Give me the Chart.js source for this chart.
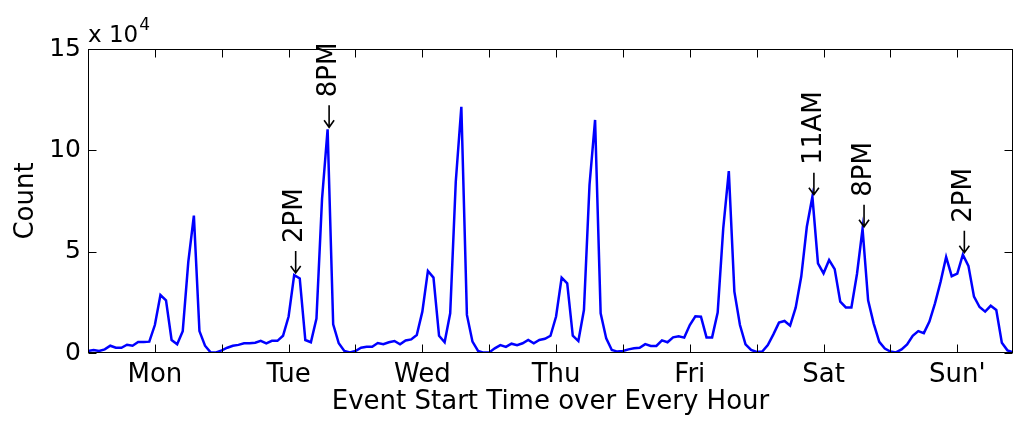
<!DOCTYPE html>
<html><head><meta charset="utf-8">
<script src="https://cdn.jsdelivr.net/npm/chart.js@4.4.0/dist/chart.umd.min.js"></script>
<style>html,body{margin:0;padding:0;background:#fff;}#wrap{width:1014px;height:422px;}</style>
</head><body><div id="wrap"><canvas id="c" width="1014" height="422"></canvas></div>
<script>
// Hourly event-start counts (units of 10^4), one array per day, hour 0..23
const mon = [0.10,0.10,0.15,0.10,0.18,0.36,0.26,0.26,0.41,0.36,0.54,0.54,0.56,1.38,2.86,2.60,0.64,0.43,1.08,4.50,6.78,1.08,0.36,0.03];
const tue = [0.03,0.13,0.26,0.36,0.40,0.48,0.48,0.51,0.60,0.48,0.60,0.60,0.85,1.80,3.85,3.68,0.64,0.53,1.70,7.60,11.04,1.41,0.48,0.10];
const wed = [0.03,0.10,0.26,0.31,0.31,0.49,0.43,0.53,0.59,0.43,0.62,0.67,0.89,2.04,4.05,3.72,0.85,0.53,1.96,8.45,12.15,1.88,0.56,0.10];
const thu = [0.02,0.03,0.23,0.39,0.30,0.46,0.39,0.48,0.64,0.48,0.64,0.70,0.85,1.80,3.72,3.44,0.85,0.59,2.12,8.29,11.50,1.96,0.72,0.15];
const fri = [0.07,0.10,0.18,0.23,0.26,0.44,0.35,0.35,0.62,0.53,0.77,0.82,0.76,1.38,1.81,1.79,0.77,0.77,2.00,6.15,8.98,3.03,1.38,0.43];
const sat = [0.15,0.05,0.07,0.39,0.92,1.50,1.58,1.35,2.24,3.77,6.23,7.71,4.42,3.93,4.59,4.14,2.53,2.25,2.25,3.90,6.13,2.60,1.45,0.55];
const sun = [0.22,0.07,0.03,0.18,0.42,0.85,1.08,0.98,1.55,2.45,3.51,4.74,3.79,3.92,4.85,4.30,2.78,2.27,2.04,2.33,2.12,0.50,0.13,0.03];

const dayLabels = ['Mon','Tue','Wed','Thu','Fri','Sat',"Sun'"];
const dayTickHours = [13,37,61,85,109,133,157];
const yTickValues = [0,5,10,15];
const annotationHours = [38,44,131,140,158];
const annotationLabels = ['2PM','8PM','11AM','8PM','2PM'];
const xTitle = 'Event Start Time over Every Hour';
const yTitle = 'Count';
const exponentText = 'x 10';
const exponentPower = '4';

const FONT = "'DejaVu Sans', Verdana, sans-serif";
const days = [mon,tue,wed,thu,fri,sat,sun];
const points = days.flatMap((d,di)=>d.map((v,hi)=>({x: di*24+hi, y: v})));
const halfDayTicks = [];
for (let h = dayTickHours[0]; h <= dayTickHours[dayTickHours.length-1]; h += 12) halfDayTicks.push(h);

const frame = {
  id:'frame',
  afterDraw(chart){
    const {ctx, chartArea:a, scales:{x,y}} = chart;
    ctx.save();
    ctx.strokeStyle = '#000'; ctx.lineWidth = 1;
    const L = Math.round(a.left)+0.5, R = Math.round(a.right)-0.5, T = Math.round(a.top)+0.5, B = Math.round(a.bottom)-0.5;
    ctx.strokeRect(L, T, R-L, B-T);
    ctx.beginPath();
    halfDayTicks.forEach(h=>{
      const px = Math.round(x.getPixelForValue(h))+0.5;
      ctx.moveTo(px,B); ctx.lineTo(px,B-8);
      ctx.moveTo(px,T); ctx.lineTo(px,T+8);
    });
    yTickValues.forEach(v=>{
      const py = Math.round(y.getPixelForValue(v))+0.5;
      ctx.moveTo(L,py); ctx.lineTo(L+8,py);
      ctx.moveTo(R,py); ctx.lineTo(R-8,py);
    });
    ctx.stroke();
    // annotations: arrow pointing down at the peak, label above (rotated)
    ctx.fillStyle = '#000';
    ctx.font = '26px ' + FONT;
    ctx.textAlign = 'left'; ctx.textBaseline = 'middle';
    ctx.lineWidth = 1.6;
    annotationHours.forEach((h,i)=>{
      const p = points.find(q=>q.x===h);
      const px = x.getPixelForValue(h), py = y.getPixelForValue(p.y);
      ctx.save();
      ctx.translate(px+1.5, py-2);
      ctx.beginPath();
      ctx.moveTo(0,0); ctx.lineTo(0,-22);
      ctx.moveTo(-5,-7); ctx.lineTo(0,0); ctx.lineTo(5,-7);
      ctx.stroke();
      ctx.rotate(-Math.PI/2);
      ctx.fillText(annotationLabels[i], 30, 0);
      ctx.restore();
    });
    // exponent
    ctx.textBaseline = 'alphabetic';
    ctx.font = '23px ' + FONT;
    ctx.fillText(exponentText, a.left, 42);
    const w = ctx.measureText(exponentText).width;
    ctx.font = '17px ' + FONT;
    ctx.fillText(exponentPower, a.left + w + 1, 30);
    ctx.restore();
  }
};

new Chart(document.getElementById('c').getContext('2d'), {
  type:'line',
  data:{datasets:[{data:points, borderColor:'#0000ff', borderWidth:2.5, pointRadius:0, tension:0, fill:false}]},
  options:{
    responsive:false, animation:false, devicePixelRatio:1,
    layout:{padding:{left:0,right:1,top:49,bottom:0}},
    plugins:{legend:{display:false}, tooltip:{enabled:false}},
    scales:{
      x:{
        type:'linear', min:1, max:167,
        grid:{display:false, drawTicks:false}, border:{display:false},
        afterBuildTicks:s=>{ s.ticks = dayTickHours.map(v=>({value:v})); },
        afterFit:s=>{ s.height = 69; },
        ticks:{autoSkip:false, maxRotation:0, minRotation:0, padding:7, color:'#000', font:{family:FONT, size:26},
          callback:v=>{ const i = dayTickHours.indexOf(v); return i>=0 ? dayLabels[i] : ''; }},
        title:{display:true, text:xTitle, color:'#000', font:{family:FONT, size:26, lineHeight:1.2}, padding:{top:0,bottom:4}}
      },
      y:{
        min:0, max:15,
        grid:{display:false, drawTicks:false}, border:{display:false},
        afterBuildTicks:s=>{ s.ticks = yTickValues.map(v=>({value:v})); },
        afterFit:s=>{ s.width = 88; },
        ticks:{padding:7, color:'#000', font:{family:FONT, size:25}},
        title:{display:true, text:yTitle, color:'#000', font:{family:FONT, size:26, lineHeight:1.2}, padding:{top:11,bottom:0}}
      }
    }
  },
  plugins:[frame]
});
</script></body></html>
